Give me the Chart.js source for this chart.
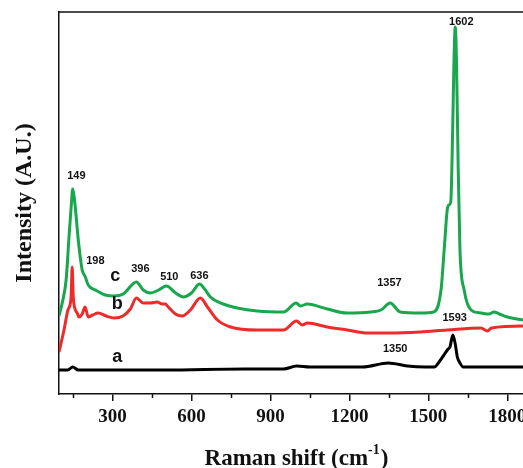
<!DOCTYPE html>
<html>
<head>
<meta charset="utf-8">
<script src="https://cdn.jsdelivr.net/npm/chart.js@4/dist/chart.umd.min.js"></script>
<style>
  html, body { margin: 0; padding: 0; background: #fff; overflow: hidden; }
  #wrap { width: 523px; height: 468px; overflow: hidden; position: relative; }
  canvas { display: block; }
</style>
</head>
<body>
<div id="wrap"><canvas id="raman" width="560" height="468"></canvas></div>
<script>
"use strict";

// spectrum a (black)
var shiftA = [97, 130, 149, 170, 250, 500, 800, 950, 1000, 1050, 1140, 1250, 1348, 1420, 1489, 1522, 1546, 1564, 1575, 1582, 1593, 1602, 1610, 1620, 1632, 1700, 1860, 1905];
var intA   = [24, 24, 27, 24, 24, 24, 25, 25, 28, 27, 27, 27, 31, 28, 27, 27, 34, 41, 45, 47, 59, 50, 37, 31, 27, 27, 27, 27];

// spectrum b (red)
var shiftB = [97, 116, 131, 143, 147, 151, 158, 166, 173, 185, 196, 208, 225, 246, 276, 306, 340, 368, 391, 417, 444, 470, 489, 501, 512, 539, 565, 596, 634, 661, 699, 748, 850, 950, 999, 1021, 1040, 1116, 1192, 1268, 1350, 1469, 1572, 1700, 1724, 1740, 1860, 1905];
var intB   = [42, 64, 84, 97, 127, 98, 85, 81, 77, 80, 87, 77, 79, 81, 78, 76, 78, 85, 96, 91, 91, 92, 90, 90, 87, 80, 78, 84, 96, 87, 74, 67, 64, 64, 73, 69, 71, 67, 64, 61, 61, 62, 64, 66, 63, 66, 68, 68];

// spectrum c (green)
var shiftC = [97, 110, 124, 135, 144, 149, 155, 162, 168, 174, 185, 197, 208, 235, 273, 303, 341, 391, 417, 444, 475, 505, 540, 569, 600, 631, 650, 672, 721, 774, 850, 950, 998, 1014, 1040, 1116, 1192, 1280, 1320, 1355, 1393, 1469, 1520, 1548, 1560, 1572, 1578, 1585, 1592, 1597, 1602, 1607, 1613, 1620, 1636, 1662, 1700, 1730, 1749, 1770, 1800, 1860, 1905];
var intC   = [78, 92, 114, 157, 190, 205, 196, 178, 160, 145, 124, 117, 109, 104, 99, 98, 100, 112, 104, 101, 104, 108, 101, 97, 101, 110, 105, 97, 90, 86, 83, 82, 91, 88, 90, 85, 81, 82, 84, 91, 82, 81, 82, 104, 144, 185, 189, 192, 260, 330, 367, 330, 230, 144, 104, 84, 81, 80, 82, 80, 77, 74, 73];

// x axis ticks
var majorTicks = [300, 600, 900, 1200, 1500, 1800];
var minorTicks = [150, 450, 750, 1050, 1350, 1650, 1950];

// peak annotations (text, anchor shift, anchor height)
var peakText  = ['149', '198', '396', '510', '636', '1357', '1602', '1593', '1350'];
var peakShift = [163, 235, 406, 516, 630, 1352, 1625, 1600, 1374];
var peakInt   = [218, 133, 125, 117, 118, 111, 372, 76, 45];

// curve letters
var curveText  = ['c', 'b', 'a'];
var curveShift = [311, 318, 318];
var curveInt   = [118, 90, 37];

function pts(xs, ys) {
  return xs.map(function(x, i) { return { x: x, y: ys[i] }; });
}

var serif = '"Liberation Serif", "Times New Roman", serif';
var sans = '"Liberation Sans", Arial, sans-serif';

var annotate = {
  id: 'annotate',
  afterDraw: function(chart) {
    var c = chart.ctx, a = chart.chartArea;
    var xs = chart.scales.x, ys = chart.scales.y;
    c.save();
    c.strokeStyle = '#111';
    c.lineWidth = 1.5;
    // top frame line
    c.beginPath();
    c.moveTo(a.left, a.top);
    c.lineTo(a.right, a.top);
    c.stroke();
    // minor ticks
    minorTicks.forEach(function(v) {
      var px = Math.round(xs.getPixelForValue(v)) + 0.5;
      c.beginPath();
      c.moveTo(px, a.bottom);
      c.lineTo(px, a.bottom + 4);
      c.stroke();
    });
    c.fillStyle = '#111';
    c.textAlign = 'center';
    c.textBaseline = 'middle';
    c.font = 'bold 11px ' + sans;
    peakText.forEach(function(t, i) {
      c.fillText(t, xs.getPixelForValue(peakShift[i]), ys.getPixelForValue(peakInt[i]));
    });
    c.font = 'bold 18px ' + sans;
    curveText.forEach(function(t, i) {
      c.fillText(t, xs.getPixelForValue(curveShift[i]), ys.getPixelForValue(curveInt[i]));
    });
    // x axis title with superscript
    c.textAlign = 'left';
    c.textBaseline = 'alphabetic';
    var main = 'Raman shift (cm', sup = '-1', close = ')';
    c.font = 'bold 23px ' + serif;
    var w1 = c.measureText(main).width, w3 = c.measureText(close).width;
    c.font = 'bold 14px ' + serif;
    var w2 = c.measureText(sup).width;
    var x0 = 296 - (w1 + w2 + w3) / 2, base = 465;
    c.font = 'bold 23px ' + serif;
    c.fillText(main, x0, base);
    c.fillText(close, x0 + w1 + w2 + 1, base);
    c.font = 'bold 14px ' + serif;
    c.fillText(sup, x0 + w1, base - 11);
    c.restore();
  }
};

var ctx = document.getElementById('raman').getContext('2d');
var myChart = new Chart(ctx, {
  type: 'line',
  data: {
    datasets: [{
      label: 'a',
      data: pts(shiftA, intA),
      borderColor: '#000000',
      borderWidth: 3,
      order: 2
    }, {
      label: 'b',
      data: pts(shiftB, intB),
      borderColor: '#ee2a2a',
      borderWidth: 3,
      order: 0
    }, {
      label: 'c',
      data: pts(shiftC, intC),
      borderColor: '#18a74c',
      borderWidth: 3,
      order: 1
    }]
  },
  options: {
    responsive: false,
    animation: false,
    parsing: false,
    elements: {
      point: { radius: 0 },
      line: { cubicInterpolationMode: 'monotone', fill: false }
    },
    layout: { padding: { top: 12, right: 25, bottom: 0, left: 0 } },
    plugins: {
      legend: { display: false },
      tooltip: { enabled: false }
    },
    scales: {
      x: {
        type: 'linear',
        min: 97,
        max: 1905,
        afterBuildTicks: function(s) {
          s.ticks = majorTicks.map(function(v) { return { value: v }; });
        },
        afterFit: function(s) { s.height = 74; },
        grid: {
          display: true,
          drawOnChartArea: false,
          drawTicks: true,
          tickLength: 7,
          color: '#111',
          lineWidth: 1.5
        },
        border: { display: true, color: '#111', width: 1.5 },
        ticks: {
          color: '#111',
          padding: 5,
          maxRotation: 0,
          callback: function(v) { return String(v); },
          font: { family: serif, size: 19, weight: 'bold' }
        }
      },
      y: {
        min: 0,
        max: 382,
        afterFit: function(s) { s.width = 59; },
        grid: { display: false, drawTicks: false },
        border: { display: true, color: '#111', width: 1.5 },
        ticks: { display: false },
        title: {
          display: true,
          text: 'Intensity (A.U.)',
          color: '#111',
          padding: { top: 10, bottom: 0 },
          font: { family: serif, size: 24, weight: 'bold' }
        }
      }
    }
  },
  plugins: [annotate]
});
</script>
</body>
</html>
